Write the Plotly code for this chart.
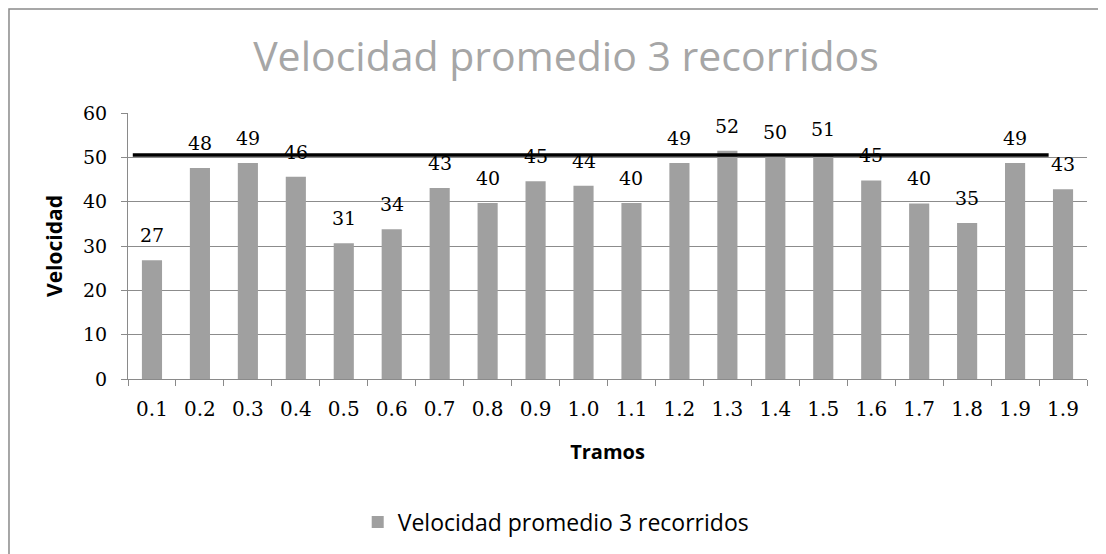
import plotly.graph_objects as go

# tramos (the last label repeats in the original chart)
tramos = ["0.1", "0.2", "0.3", "0.4", "0.5", "0.6", "0.7", "0.8", "0.9", "1.0",
          "1.1", "1.2", "1.3", "1.4", "1.5", "1.6", "1.7", "1.8", "1.9", "1.9"]
velocidad = [26.8, 47.6, 48.7, 45.6, 30.6, 33.8, 43.1, 39.7, 44.6, 43.6,
             39.7, 48.7, 51.5, 50.0, 50.7, 44.8, 39.6, 35.2, 48.7, 42.8]
# black reference line drawn across the chart
ref_x = [-0.4, 18.7]
ref_y = [50.5, 50.5]

pos = list(range(len(tramos)))
serif = 'DejaVu Serif'
sans = 'Open Sans'

fig = go.Figure()
fig.add_trace(go.Bar(x=pos, y=velocidad, name='Velocidad promedio 3 recorridos',
                     marker=dict(color='#a0a0a0', line_width=0), width=0.42))
fig.add_trace(go.Scatter(x=ref_x, y=ref_y, mode='lines', showlegend=False,
                         line=dict(color='black', width=3.5), cliponaxis=False))

# data labels, sitting a bit above each bar like in Excel
for p, v in zip(pos, velocidad):
    fig.add_annotation(x=p, y=v, text=f'{v:.0f}', showarrow=False, yanchor='bottom', yshift=12,
                       font=dict(family=serif, size=19, color='black'))

# page body adds an 8px offset, so the figure is a bit smaller than the window
fig.update_layout(
    width=1098, height=546, margin=dict(l=120, r=19, t=105, b=175, autoexpand=False),
    plot_bgcolor='white', paper_bgcolor='white',
    title=dict(text='Velocidad promedio 3 recorridos', x=0.5082, xref='container', xanchor='center',
               y=0.9103, yref='container', yanchor='middle',
               font=dict(family=sans, size=41, color='#a6a6a6')),
    showlegend=True,
    legend=dict(orientation='h', x=0.446, xanchor='center', y=-0.538, yanchor='middle',
                font=dict(family=sans, size=23, color='black')),
    shapes=[dict(type='rect', xref='paper', yref='paper', x0=-0.1241, x1=1.05, y0=-0.75, y1=1.391,
                 line=dict(color='#8a8a8a', width=1.5), fillcolor='rgba(0,0,0,0)', layer='below')],
)
fig.update_xaxes(range=[-0.5, 19.5], tickmode='array', tickvals=pos, ticktext=tramos,
                 ticks='', ticklabelstandoff=12, showgrid=False, zeroline=False,
                 showline=True, linecolor='#8a8a8a', linewidth=1,
                 minor=dict(tickmode='array', tickvals=[p - 0.5 for p in pos] + [19.5],
                            ticks='outside', ticklen=6, tickcolor='#8a8a8a', showgrid=False),
                 tickfont=dict(family=serif, size=20, color='black'),
                 title=dict(text='<b>Tramos</b>', standoff=24,
                            font=dict(family=sans, size=20, color='black')))
fig.update_yaxes(range=[0, 60], dtick=10, showgrid=True, gridcolor='#8c8c8c', gridwidth=1,
                 zeroline=False, showline=True, linecolor='#8a8a8a', linewidth=1,
                 ticks='outside', ticklen=6, tickcolor='#8a8a8a', ticklabelstandoff=10,
                 tickfont=dict(family=serif, size=19, color='black'),
                 title=dict(text='<b>Velocidad</b>', standoff=14,
                            font=dict(family=sans, size=21, color='black')))

fig.write_html("out.html")
